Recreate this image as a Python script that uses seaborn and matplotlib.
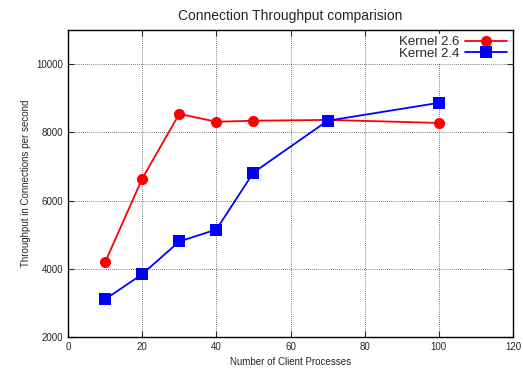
import matplotlib
matplotlib.use("Agg")
import matplotlib.pyplot as plt
import seaborn as sns
import pandas as pd

clients = [10, 20, 30, 40, 50, 70, 100]
kernel26 = [4190, 6640, 8540, 8310, 8340, 8365, 8275]
kernel24 = [3105, 3840, 4800, 5150, 6820, 8340, 8865]
series_names = ["Kernel 2.6", "Kernel 2.4"]

df = pd.DataFrame({
    "clients": clients * 2,
    "throughput": kernel26 + kernel24,
    "kernel": [series_names[0]] * len(clients) + [series_names[1]] * len(clients),
})

sns.set_style("ticks")
plt.rcParams['font.family'] = ['Liberation Sans', 'DejaVu Sans']

fig = plt.figure(figsize=(5.23, 3.72), dpi=100)
ax = fig.add_axes([68/523, 1 - 337/372, (513-68)/523, (337-30)/372])

sns.lineplot(data=df, x="clients", y="throughput", hue="kernel", style="kernel",
             palette={series_names[0]: "#ff0000", series_names[1]: "#0000ff"},
             markers={series_names[0]: "o", series_names[1]: "s"},
             dashes=False, markersize=8, linewidth=1.3, markeredgewidth=0,
             ax=ax)

ax.set_xlim(0, 120)
ax.set_ylim(2000, 11000)
ax.set_xticks(range(0, 121, 20))
ax.set_yticks(range(2000, 10001, 2000))
ax.grid(True, color="black", linestyle=(0, (1, 2)), linewidth=0.5)
ax.tick_params(direction="in", top=True, right=True, labelsize=7, length=4)
for s in ax.spines.values():
    s.set_linewidth(1.0)
    s.set_color("black")
ax.set_xlabel("Number of Client Processes", fontsize=7)
ax.set_ylabel("Throughput in Connections per second", fontsize=7)
ax.set_title("Connection Throughput comparision", fontsize=10, pad=7)

leg = ax.legend(loc="upper right", markerfirst=False, frameon=True, fontsize=9.5,
                handlelength=3.2, handletextpad=0.4, borderpad=0.15,
                labelspacing=-0.05, borderaxespad=0.3)
leg.get_frame().set_facecolor("white")
leg.get_frame().set_edgecolor("white")
leg.get_frame().set_alpha(1)

fig.savefig("out.png", dpi=100)
